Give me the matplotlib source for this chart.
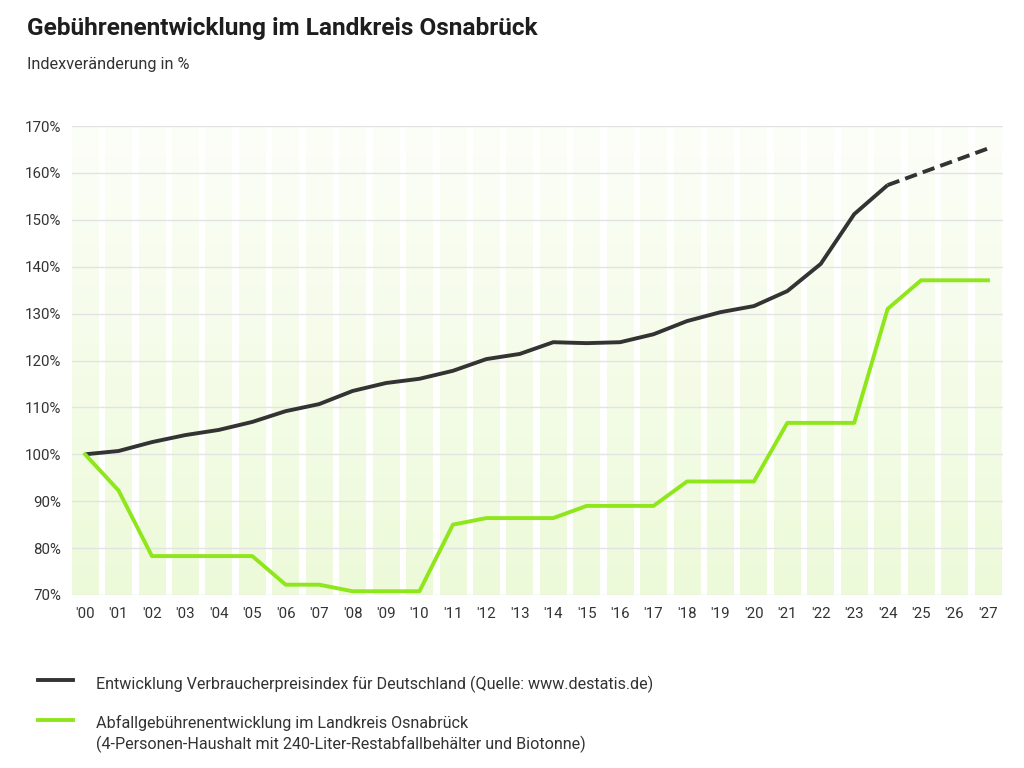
import numpy as np
import matplotlib
matplotlib.use("Agg")
import matplotlib.pyplot as plt
from matplotlib.lines import Line2D
from matplotlib.colors import LinearSegmentedColormap

# ---- data ----
years = list(range(2000, 2028))
year_labels = ["'%02d" % (y % 100) for y in years]
cpi_actual_years = list(range(2000, 2025))
cpi_actual = [100.0, 100.7, 102.6, 104.1, 105.2, 106.9, 109.2, 110.7, 113.5, 115.2,
              116.1, 117.8, 120.3, 121.4, 123.9, 123.7, 123.9, 125.6, 128.4, 130.3,
              131.6, 134.8, 140.6, 151.2, 157.4]
cpi_forecast_years = [2024, 2025, 2026, 2027]
cpi_forecast = [157.4, 160.0, 162.6, 165.2]
fee_values = [100.0, 92.3, 78.3, 78.3, 78.3, 78.3, 72.2, 72.2, 70.8, 70.8,
              70.8, 85.0, 86.4, 86.4, 86.4, 89.0, 89.0, 89.0, 94.2, 94.2,
              94.2, 106.7, 106.7, 106.7, 131.0, 137.1, 137.1, 137.1]
y_ticks = [70, 80, 90, 100, 110, 120, 130, 140, 150, 160, 170]
y_tick_labels = ["%d%%" % v for v in y_ticks]

title = "Gebührenentwicklung im Landkreis Osnabrück"
subtitle = "Indexveränderung in %"
legend_cpi = "Entwicklung Verbraucherpreisindex für Deutschland (Quelle: www.destatis.de)"
legend_fee = "Abfallgebührenentwicklung im Landkreis Osnabrück\n(4-Personen-Haushalt mit 240-Liter-Restabfallbehälter und Biotonne)"

DARK = "#333333"
GREEN = "#8ee61b"

plt.rcParams['font.family'] = ['Roboto', 'DejaVu Sans']

fig = plt.figure(figsize=(10.24, 7.68), dpi=100)
ax = fig.add_axes([72/1024, 1-595/768, (1003-72)/1024, (595-126)/768])

ymin, ymax = 70, 170
x = np.array(years)

# background stripes with vertical gradient
cmap = LinearSegmentedColormap.from_list("g", ["#edfad9", "#fcfef8"])
grad = np.linspace(0, 1, 256).reshape(-1, 1)
bars = ax.bar(x, ymax - ymin, bottom=ymin, width=0.80, color="none", edgecolor="none", zorder=0)
for b in bars:
    bx, bw = b.get_x(), b.get_width()
    im = ax.imshow(grad, cmap=cmap, origin="lower", aspect="auto",
                   extent=[bx, bx + bw, ymin, ymax], zorder=0.5)
    im.set_clip_path(b)

# grid
for v in y_ticks:
    ax.axhline(v, color="#e3e3e3", lw=1.0, zorder=1)

ax.plot(cpi_actual_years, cpi_actual, color=DARK, lw=2.8, solid_capstyle="butt", zorder=3)
ax.plot(cpi_forecast_years, cpi_forecast, color=DARK, lw=2.8, ls=(0, (3.2, 1.6)), zorder=3)
ax.plot(years, fee_values, color=GREEN, lw=2.8, zorder=3)

ax.set_xlim(2000 - 0.39, 2027 + 0.45)
ax.set_ylim(ymin, ymax)
ax.set_yticks(y_ticks)
ax.set_yticklabels(y_tick_labels)
ax.set_xticks(years)
ax.set_xticklabels(year_labels)
ax.tick_params(axis="both", length=0, labelsize=10.8, labelcolor=DARK)
ax.tick_params(axis="y", pad=8)
ax.tick_params(axis="x", pad=9)
for s in ax.spines.values():
    s.set_visible(False)
ax.set_facecolor("white")

fig.text(27/1024, 1-28/768, title, fontsize=17.6, fontweight="bold", color="#1e1e1e", va="center", ha="left")
fig.text(27/1024, 1-64/768, subtitle, fontsize=11.7, color=DARK, va="center", ha="left")

# legend
fig.add_artist(Line2D([38/1024, 73/1024], [1-680/768, 1-680/768], color=DARK, lw=2.8))
fig.text(96/1024, 1-684/768, legend_cpi, fontsize=11.6, color=DARK, va="center", ha="left")
fig.add_artist(Line2D([38/1024, 73/1024], [1-720/768, 1-720/768], color=GREEN, lw=2.8))
fig.text(96/1024, 1-734/768, legend_fee, fontsize=11.6, color=DARK, va="center", ha="left", linespacing=1.4)

fig.savefig("out.png", dpi=100)
